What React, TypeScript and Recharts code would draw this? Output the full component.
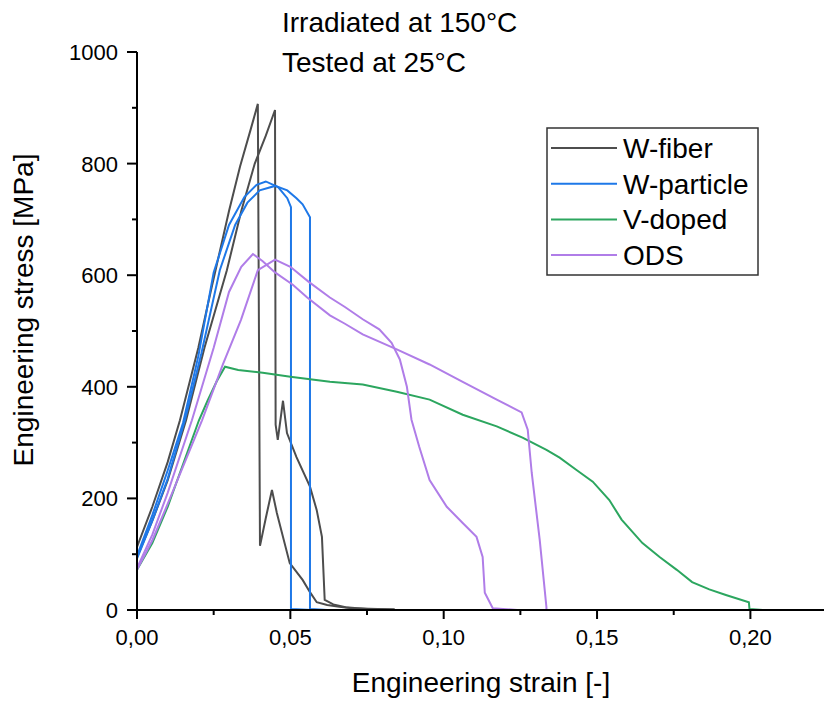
import { LineChart, Line, XAxis, YAxis, Legend, Label } from 'recharts';

// strain [-], stress [MPa], two specimens per material
const wFiber1: [number, number][] = [
  [0, 113], [0.005, 185], [0.01, 265], [0.014, 340], [0.02, 470], [0.024, 570], [0.03, 715],
  [0.0336, 795], [0.037, 860], [0.0394, 907], [0.0401, 115], [0.042, 165], [0.044, 215],
  [0.0456, 174], [0.0498, 84], [0.054, 54], [0.0564, 32], [0.0586, 14], [0.062, 9],
  [0.066, 6], [0.07, 3], [0.084, 1],
];
const wFiber2: [number, number][] = [
  [0, 95], [0.005, 160], [0.01, 232], [0.016, 340], [0.022, 470], [0.0293, 609], [0.034, 715],
  [0.0384, 800], [0.042, 850], [0.045, 896], [0.0452, 332], [0.0459, 305], [0.0476, 375],
  [0.0489, 317], [0.052, 274], [0.0564, 221], [0.0586, 179], [0.0603, 131], [0.0612, 18],
  [0.064, 10], [0.068, 5], [0.075, 2], [0.084, 1],
];
const wParticle1: [number, number][] = [
  [0, 97], [0.005, 170], [0.01, 250], [0.015, 335], [0.02, 455], [0.025, 605], [0.03, 690],
  [0.035, 740], [0.039, 762], [0.042, 768], [0.046, 758], [0.049, 738], [0.0502, 722],
  [0.0502, 2], [0.057, 0],
];
const wParticle2: [number, number][] = [
  [0, 92], [0.005, 160], [0.01, 235], [0.0156, 340], [0.021, 460], [0.027, 609], [0.032, 690],
  [0.036, 730], [0.04, 752], [0.045, 760], [0.049, 752], [0.052, 738], [0.054, 727],
  [0.0564, 704], [0.0564, 2], [0.062, 0],
];
const vDoped: [number, number][] = [
  [0, 72], [0.005, 120], [0.01, 185], [0.0202, 340], [0.023, 375], [0.026, 410], [0.0287, 436],
  [0.033, 430], [0.041, 425], [0.05, 418], [0.0629, 409], [0.0736, 404], [0.0847, 391],
  [0.0954, 377], [0.1062, 350], [0.1173, 329], [0.1257, 309], [0.1335, 287], [0.1378, 273],
  [0.1433, 251], [0.1486, 230], [0.154, 197], [0.158, 162], [0.1648, 120], [0.1704, 95],
  [0.176, 72], [0.181, 50], [0.1866, 37], [0.192, 27], [0.1995, 14], [0.1997, 2], [0.204, 0],
];
const ods1: [number, number][] = [
  [0, 75], [0.005, 135], [0.01, 210], [0.0179, 340], [0.025, 470], [0.03, 570], [0.034, 615],
  [0.0378, 638], [0.041, 625], [0.045, 605], [0.0508, 583], [0.0555, 560], [0.0629, 528],
  [0.0678, 513], [0.0736, 494], [0.0847, 467], [0.0954, 440], [0.1062, 409], [0.1173, 377],
  [0.1254, 354], [0.1274, 323], [0.1287, 246], [0.1313, 126], [0.1335, 5], [0.1335, 0], [0.138, 0],
];
const ods2: [number, number][] = [
  [0, 72], [0.005, 125], [0.01, 190], [0.0212, 340], [0.028, 440], [0.0339, 520], [0.0394, 609],
  [0.045, 628], [0.05, 615], [0.056, 588], [0.0629, 560], [0.0678, 543], [0.0736, 521],
  [0.079, 503], [0.083, 479], [0.0857, 449], [0.088, 400], [0.0895, 341], [0.092, 293],
  [0.0954, 233], [0.101, 185], [0.1062, 156], [0.1107, 131], [0.1127, 95], [0.1134, 31],
  [0.116, 3], [0.124, 0],
];

const materials = ['W-fiber', 'W-particle', 'V-doped', 'ODS'];
const colors = ['#4d4d4d', '#1e78e8', '#2ca65f', '#b07de8'];

const series = [
  { name: 'W-fiber', color: colors[0], pts: wFiber1 },
  { name: 'W-fiber', color: colors[0], pts: wFiber2 },
  { name: 'W-particle', color: colors[1], pts: wParticle1 },
  { name: 'W-particle', color: colors[1], pts: wParticle2 },
  { name: 'V-doped', color: colors[2], pts: vDoped },
  { name: 'ODS', color: colors[3], pts: ods1 },
  { name: 'ODS', color: colors[3], pts: ods2 },
];

const xTicks = [0, 0.025, 0.05, 0.075, 0.1, 0.125, 0.15, 0.175, 0.2];
const yTicks = [0, 100, 200, 300, 400, 500, 600, 700, 800, 900, 1000];

const FONT = '"Liberation Sans", Arial, sans-serif';

const XTick = ({ x, y, payload }: any) => {
  const v = payload.value;
  const major = Math.abs(v / 0.05 - Math.round(v / 0.05)) < 1e-6;
  return (
    <g>
      <line x1={x} x2={x} y1={y} y2={y + (major ? 9 : 5)} stroke="#000" strokeWidth={2} />
      {major && (
        <text x={x} y={y + 35} textAnchor="middle" fontSize={22} fontFamily={FONT} fill="#000">
          {v.toFixed(2).replace('.', ',')}
        </text>
      )}
    </g>
  );
};

const YTick = ({ x, y, payload }: any) => {
  const v = payload.value;
  const major = v % 200 === 0;
  return (
    <g>
      <line x1={x - (major ? 10 : 5)} x2={x} y1={y} y2={y} stroke="#000" strokeWidth={2} />
      {major && (
        <text x={x - 19} y={y + 8} textAnchor="end" fontSize={22} fontFamily={FONT} fill="#000">
          {v}
        </text>
      )}
    </g>
  );
};

const LegendBox = () => (
  <svg width={213} height={149} style={{ display: 'block' }}>
    <rect x={1} y={1} width={211} height={147} fill="#fff" stroke="#333" strokeWidth={1.5} />
    {materials.map((m, i) => (
      <g key={m}>
        <line x1={5} x2={71} y1={21 + i * 35.7} y2={21 + i * 35.7} stroke={colors[i]} strokeWidth={2} />
        <text x={77} y={31 + i * 35.7} fontSize={28} fontFamily={FONT} fill="#000">{m}</text>
      </g>
    ))}
  </svg>
);

export default function App() {
  return (
    <div style={{ position: 'absolute', left: 0, top: 0, width: 824, height: 701, background: '#fff' }}>
      <LineChart width={824} height={701} margin={{ top: 52, right: 0, bottom: 0, left: 0 }}>
        <XAxis
          dataKey="x" type="number" domain={[0, 0.224]} ticks={xTicks} interval={0}
          height={91} tickLine={false} tickSize={0} tickMargin={0}
          axisLine={{ stroke: '#000', strokeWidth: 2 }} tick={<XTick />}
          allowDataOverflow
        >
          <Label content={() => (
            <text x={481} y={692} textAnchor="middle" fontSize={28} fontFamily={FONT} fill="#000">
              Engineering strain [-]
            </text>
          )} />
        </XAxis>
        <YAxis
          type="number" domain={[0, 1000]} ticks={yTicks} interval={0}
          width={137} tickLine={false} tickSize={0} tickMargin={0}
          axisLine={{ stroke: '#000', strokeWidth: 2 }} tick={<YTick />}
        >
          <Label content={() => (
            <text transform="translate(33, 310) rotate(-90)" textAnchor="middle" fontSize={28} fontFamily={FONT} fill="#000">
              Engineering stress [MPa]
            </text>
          )} />
        </YAxis>
        <Legend
          layout="vertical" align="center" verticalAlign="middle"
          wrapperStyle={{ left: 546, top: 127, width: 213, height: 149 }}
          content={() => <LegendBox />}
        />
        {series.map((s, i) => (
          <Line
            key={i} name={s.name} data={s.pts.map(([x, y]) => ({ x, y }))} dataKey="y"
            stroke={s.color} strokeWidth={2} dot={false} activeDot={false}
            type="linear" isAnimationActive={false} legendType="none"
          />
        ))}
      </LineChart>
      <svg width={824} height={90} style={{ position: 'absolute', left: 0, top: 0, pointerEvents: 'none' }}>
        <text x={282} y={32} fontSize={28} fontFamily={FONT} fill="#000">Irradiated at 150°C</text>
        <text x={282} y={72} fontSize={28} fontFamily={FONT} fill="#000">Tested at 25°C</text>
      </svg>
    </div>
  );
}
